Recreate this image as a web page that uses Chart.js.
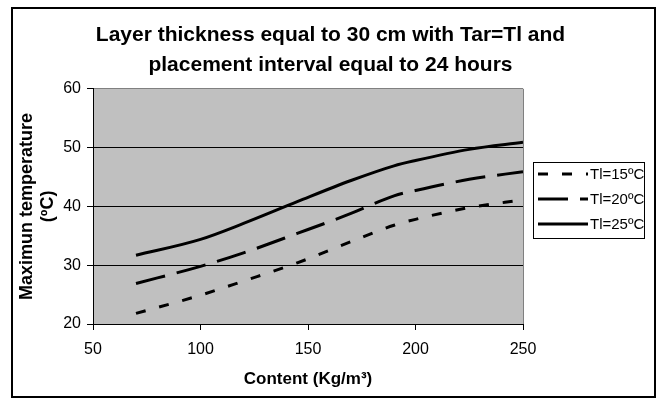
<!DOCTYPE html>
<html>
<head>
<meta charset="utf-8">
<script src="https://cdn.jsdelivr.net/npm/chart.js@4.4.0/dist/chart.umd.min.js"></script>
<style>
  body { margin: 0; background: #fff; }
  #wrap { width: 661px; height: 399px; }
</style>
</head>
<body>
<div id="wrap"><canvas id="tempChart" width="661" height="399"></canvas></div>
<script>
// values
const contents = [70, 100, 120, 145, 170, 190, 200, 225, 250];
const tl15 = [21.8, 24.9, 27.3, 30.4, 34.0, 36.8, 37.8, 39.8, 41.1];
const tl20 = [26.9, 29.8, 32.1, 35.4, 38.8, 41.8, 42.7, 44.6, 45.9];
const tl25 = [31.7, 34.4, 37.1, 40.8, 44.4, 46.9, 47.8, 49.7, 50.9];
const seriesLabels = ['Tl=15ºC', 'Tl=20ºC', 'Tl=25ºC'];
const xTicks = [50, 100, 150, 200, 250];
const yTicks = [20, 30, 40, 50, 60];

const FONT = "'Liberation Sans', Arial, sans-serif";

function toPoints(values) {
    return contents.map((c, i) => ({ x: c, y: values[i] }));
}

// white page, grey plot area, outer frame
const backgroundPlugin = {
    id: 'background',
    beforeDraw(chart) {
        const ctx = chart.ctx;
        const a = chart.chartArea;
        ctx.save();
        ctx.fillStyle = '#ffffff';
        ctx.fillRect(0, 0, chart.width, chart.height);
        ctx.fillStyle = '#c0c0c0';
        ctx.fillRect(a.left, a.top, a.right - a.left, a.bottom - a.top);
        ctx.restore();
    },
    afterDraw(chart) {
        const ctx = chart.ctx;
        const a = chart.chartArea;
        ctx.save();
        // right edge of plot area
        ctx.strokeStyle = '#808080';
        ctx.lineWidth = 1;
        ctx.beginPath();
        ctx.moveTo(Math.round(a.right) + 0.5, a.top);
        ctx.lineTo(Math.round(a.right) + 0.5, a.bottom);
        ctx.stroke();
        // outer frame
        ctx.strokeStyle = '#000000';
        ctx.lineWidth = 2;
        ctx.strokeRect(12, 8, 643, 389);
        ctx.restore();
    }
};

// boxed legend on the right, built from the datasets
const boxLegendPlugin = {
    id: 'boxLegend',
    afterDraw(chart) {
        const ctx = chart.ctx;
        const left = 533, top = 162, w = 111, h = 76;
        ctx.save();
        ctx.fillStyle = '#ffffff';
        ctx.fillRect(left, top, w, h);
        ctx.strokeStyle = '#000000';
        ctx.lineWidth = 1;
        ctx.strokeRect(left + 0.5, top + 0.5, w, h);
        chart.data.datasets.forEach((ds, i) => {
            const y = 174 + i * 25;
            ctx.strokeStyle = ds.borderColor;
            ctx.lineWidth = ds.borderWidth;
            ctx.setLineDash(ds.borderDash || []);
            ctx.beginPath();
            ctx.moveTo(538, y);
            ctx.lineTo(588, y);
            ctx.stroke();
            ctx.setLineDash([]);
            ctx.fillStyle = '#000000';
            ctx.font = '15px ' + FONT;
            ctx.textAlign = 'left';
            ctx.textBaseline = 'middle';
            ctx.fillText(ds.label, 590, y + 1);
        });
        ctx.restore();
    }
};

function createChart() {
    const ctx = document.getElementById('tempChart').getContext('2d');

    new Chart(ctx, {
        type: 'line',
        data: {
            datasets: [{
                label: seriesLabels[0],
                data: toPoints(tl15),
                borderColor: '#000000',
                borderWidth: 3,
                borderDash: [10, 14]
            }, {
                label: seriesLabels[1],
                data: toPoints(tl20),
                borderColor: '#000000',
                borderWidth: 3,
                borderDash: [30, 12]
            }, {
                label: seriesLabels[2],
                data: toPoints(tl25),
                borderColor: '#000000',
                borderWidth: 3
            }]
        },
        options: {
            responsive: false,
            animation: false,
            layout: { padding: 0 },
            elements: {
                point: { radius: 0 },
                line: { cubicInterpolationMode: 'monotone', fill: false }
            },
            plugins: {
                legend: { display: false },
                tooltip: { enabled: false },
                title: {
                    display: true,
                    text: ['Layer thickness equal to 30 cm with Tar=Tl and',
                           'placement interval equal to 24 hours'],
                    color: '#000000',
                    font: { family: FONT, size: 21, weight: 'bold', lineHeight: 1.4 },
                    padding: { top: 21, bottom: 9 }
                }
            },
            scales: {
                x: {
                    type: 'linear',
                    min: 50,
                    max: 250,
                    afterBuildTicks(scale) {
                        scale.ticks = xTicks.map(v => ({ value: v }));
                    },
                    afterFit(scale) { scale.height = 75; },
                    grid: {
                        drawOnChartArea: false,
                        drawTicks: true,
                        tickLength: 6,
                        tickColor: '#000000'
                    },
                    border: { display: true, color: '#000000', width: 1 },
                    ticks: {
                        color: '#000000',
                        padding: 10,
                        maxRotation: 0,
                        font: { family: FONT, size: 16 }
                    },
                    title: {
                        display: true,
                        text: 'Content (Kg/m³)',
                        color: '#000000',
                        font: { family: FONT, size: 17, weight: 'bold' },
                        padding: { top: 0, bottom: 9 }
                    }
                },
                y: {
                    min: 20,
                    max: 60,
                    afterBuildTicks(scale) {
                        scale.ticks = yTicks.map(v => ({ value: v }));
                    },
                    afterFit(scale) { scale.width = 93; },
                    grid: {
                        color: c => {
                            if (c.tick && c.tick.value === 60) return '#808080';
                            if (c.tick && c.tick.value === 20) return 'rgba(0,0,0,0)';
                            return '#000000';
                        },
                        drawTicks: true,
                        tickLength: 6,
                        tickColor: '#000000'
                    },
                    border: { display: true, color: '#000000', width: 1 },
                    ticks: {
                        color: '#000000',
                        padding: 6,
                        font: { family: FONT, size: 16 }
                    },
                    title: {
                        display: true,
                        text: ['Maximun temperature', '(ºC)'],
                        color: '#000000',
                        font: { family: FONT, size: 18, weight: 'bold' },
                        padding: { top: 16, bottom: 0 }
                    }
                },
                // empty axis that keeps room for the legend on the right
                legendRoom: {
                    type: 'linear',
                    position: 'right',
                    display: true,
                    afterFit(scale) { scale.width = 138; },
                    grid: { display: false },
                    border: { display: false },
                    ticks: { display: false }
                }
            }
        },
        plugins: [backgroundPlugin, boxLegendPlugin]
    });
}

window.onload = function () {
    createChart();
};
</script>
</body>
</html>
